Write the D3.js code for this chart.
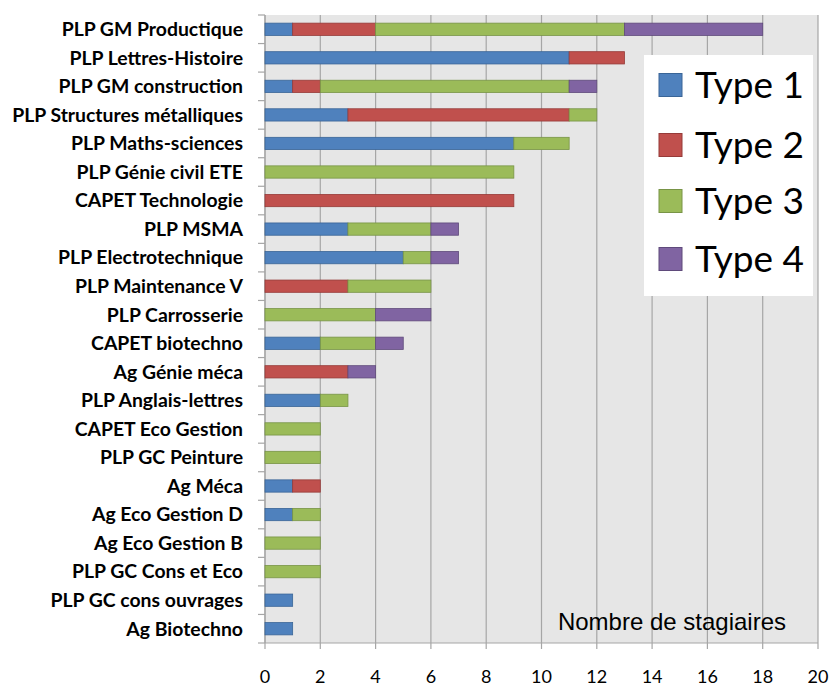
<!DOCTYPE html>
<html><head><meta charset="utf-8">
<script src="https://cdn.jsdelivr.net/npm/d3@7"></script>
<style>body{margin:0;background:#fff}</style>
</head><body>
<svg id="c" width="832" height="687"></svg>
<script>
const categories = ["PLP GM Productique","PLP Lettres-Histoire","PLP GM construction","PLP Structures métalliques","PLP Maths-sciences","PLP Génie civil ETE","CAPET Technologie","PLP MSMA","PLP Electrotechnique","PLP Maintenance V","PLP Carrosserie","CAPET biotechno","Ag Génie méca","PLP Anglais-lettres","CAPET Eco Gestion","PLP GC Peinture","Ag Méca","Ag Eco Gestion D","Ag Eco Gestion B","PLP GC Cons et Eco","PLP GC cons ouvrages","Ag Biotechno"];
const type1 = [1,11,1,3,9,0,0,3,5,0,0,2,0,2,0,0,1,1,0,0,1,1];
const type2 = [3,2,1,8,0,0,9,0,0,3,0,0,3,0,0,0,1,0,0,0,0,0];
const type3 = [9,0,9,1,2,9,0,3,1,3,4,2,0,1,2,2,0,1,2,2,0,0];
const type4 = [5,0,1,0,0,0,0,1,1,0,2,1,1,0,0,0,0,0,0,0,0,0];
const seriesNames = ["Type 1","Type 2","Type 3","Type 4"];
const xTicks = [0,2,4,6,8,10,12,14,16,18,20];
const axisTitle = "Nombre de stagiaires";

const colors = ["#4F81BD","#C0504D","#9BBB59","#8064A2"];
const strokes = ["#3A6597","#963B39","#789446","#5F4A7B"];

const svg = d3.select("#c");
const L=265, R=818, T=15, B=643;
const x = d3.scaleLinear().domain([0,20]).range([L,R]);
const y = d3.scaleBand().domain(categories).range([T,B]).paddingInner(0.57).paddingOuter(0.285);

svg.append("rect").attr("x",L).attr("y",T).attr("width",R-L).attr("height",B-T).attr("fill","#e6e6e6");
svg.append("g").selectAll("line").data(xTicks).join("line")
  .attr("x1",d=>x(d)).attr("x2",d=>x(d)).attr("y1",T).attr("y2",B+6)
  .attr("stroke","#a6a6a6").attr("stroke-width",1.2);
svg.append("line").attr("x1",L).attr("x2",R).attr("y1",B).attr("y2",B).attr("stroke","#a6a6a6").attr("stroke-width",1.2);
svg.append("line").attr("x1",L).attr("x2",L).attr("y1",T).attr("y2",B).attr("stroke","#a6a6a6").attr("stroke-width",1.2);
const step = (B-T)/categories.length;
svg.append("g").selectAll("line").data(d3.range(categories.length+1)).join("line")
  .attr("x1",L-7).attr("x2",L).attr("y1",i=>T+i*step).attr("y2",i=>T+i*step)
  .attr("stroke","#a6a6a6").attr("stroke-width",1.2);

const rows = categories.map((c,i)=>({cat:c,Type1:type1[i],Type2:type2[i],Type3:type3[i],Type4:type4[i]}));
const stack = d3.stack().keys(["Type1","Type2","Type3","Type4"])(rows);
stack.forEach((s,k)=>{
  svg.append("g").selectAll("rect").data(s.filter(d=>d[1]-d[0]>0)).join("rect")
    .attr("x",d=>x(d[0])).attr("width",d=>x(d[1])-x(d[0]))
    .attr("y",d=>y(d.data.cat)).attr("height",y.bandwidth())
    .attr("fill",colors[k]).attr("stroke",strokes[k]).attr("stroke-width",0.8);
});

svg.append("g").selectAll("text").data(categories).join("text")
  .attr("x",243).attr("y",d=>y(d)+y.bandwidth()/2).attr("dy","0.35em")
  .attr("text-anchor","end").attr("font-family","Lato, 'Open Sans', sans-serif")
  .attr("font-weight","bold").attr("font-size",19.4).attr("fill","#000").text(d=>d);

svg.append("g").selectAll("text").data(xTicks).join("text")
  .attr("x",d=>x(d)).attr("y",682.5).attr("text-anchor","middle")
  .attr("font-family","Lato, 'Open Sans', sans-serif").attr("font-size",18).attr("fill","#000").text(d=>d);

svg.append("text").attr("x",672).attr("y",622).attr("dy","0.35em").attr("text-anchor","middle")
  .attr("font-family","'Liberation Sans', Arial, sans-serif").attr("font-size",24).attr("fill","#000").text(axisTitle);

const lg = svg.append("g");
lg.append("rect").attr("x",644).attr("y",55).attr("width",169).attr("height",241).attr("fill","#fff");
const ly = [85,145,201,259];
seriesNames.forEach((n,k)=>{
  lg.append("rect").attr("x",659).attr("y",ly[k]-11.5).attr("width",23).attr("height",23)
    .attr("fill",colors[k]).attr("stroke",strokes[k]).attr("stroke-width",1);
  lg.append("text").attr("x",695).attr("y",ly[k]).attr("dy","0.35em")
    .attr("font-family","Lato, 'Open Sans', sans-serif").attr("font-size",37).attr("fill","#000").text(n);
});
</script>
</body></html>
